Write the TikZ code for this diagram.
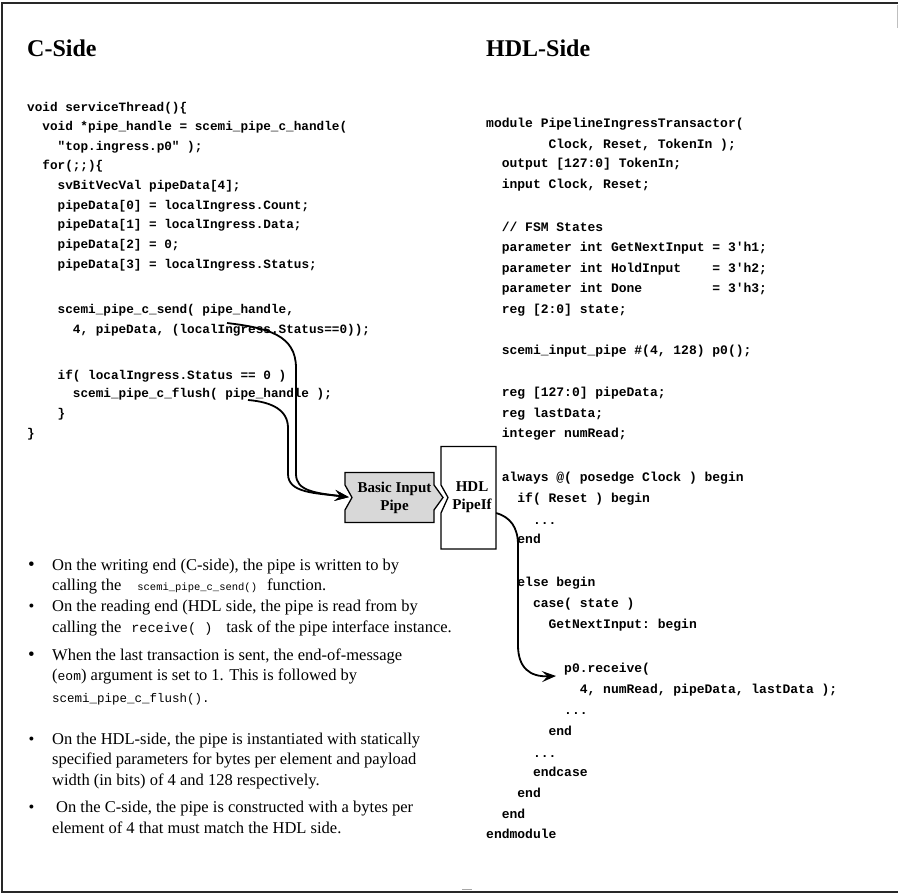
\documentclass[tikz,border=0pt]{standalone}
\usepackage{fontspec}
\setmainfont{Liberation Serif}
\setmonofont{Liberation Mono}
\usetikzlibrary{arrows.meta,calc}
\definecolor{pipegray}{RGB}{216,216,216}
\definecolor{framegray}{RGB}{40,40,40}
\begin{document}
\begin{tikzpicture}[x=1pt,y=-1pt,
  ccode/.style={anchor=base west, inner sep=0pt, font=\ttfamily\bfseries\fontsize{12.7}{15}\selectfont},
  hcode/.style={anchor=base west, inner sep=0pt, font=\ttfamily\bfseries\fontsize{13}{15}\selectfont},
  btxt/.style={anchor=base west, inner sep=0pt, font=\fontsize{16.5}{20}\selectfont},
  bdot/.style={anchor=base, inner sep=0pt, font=\fontsize{16.5}{20}\selectfont},
  bdotbig/.style={anchor=base, inner sep=0pt, font=\fontsize{19}{20}\selectfont},
  title/.style={anchor=base west, inner sep=0pt, font=\bfseries\fontsize{24}{27}\selectfont},
  lbl/.style={align=center, inner sep=0pt, font=\bfseries\fontsize{15}{18}\selectfont},
  shapeline/.style={line width=1.3pt, draw=black},
  wire/.style={line width=1.8pt, -{Stealth[length=14pt,width=11pt,inset=5.5pt]}}]
\useasboundingbox (0,0) rectangle (898,893);
% frame
\draw[line width=1.2pt, framegray] (2,892) -- (2,3);
\draw[line width=2pt, framegray] (1,3) -- (898,3);
\draw[line width=1.5pt, framegray] (1,891.8) -- (898,891.8);
\draw[line width=1pt, black!25] (897,5) -- (897,28);
\draw[line width=1.5pt, black!35] (462,889.5) -- (472,889.5);

% titles
\node[title] (ctitle) at (27,57) {C-Side};
\node[title] (htitle) at (486,57) {HDL-Side};

% C code
\node[ccode] (c1) at (27,111.5) {void serviceThread()\{};
\node[ccode] (c2) at (42.2,131) {void *pipe\_handle = scemi\_pipe\_c\_handle(};
\node[ccode] (c3) at (57.5,151) {"top.ingress.p0" );};
\node[ccode] (c4) at (42.2,170) {for(;;)\{};
\node[ccode] (c5) at (57.5,190) {svBitVecVal pipeData[4];};
\node[ccode] (c6) at (57.5,209.5) {pipeData[0] = localIngress.Count;};
\node[ccode] (c7) at (57.5,229) {pipeData[1] = localIngress.Data;};
\node[ccode] (c8) at (57.5,249) {pipeData[2] = 0;};
\node[ccode] (c9) at (57.5,268.5) {pipeData[3] = localIngress.Status;};
\node[ccode] (c10) at (57.5,314) {scemi\_pipe\_c\_send( pipe\_handle,};
\node[ccode] (c11) at (72.7,334) {4, pipeData, (localIngress.Status==0));};
\node[ccode] (c12) at (57.5,379.5) {if( localIngress.Status == 0 )};
\node[ccode] (c13) at (72.7,398) {scemi\_pipe\_c\_flush( pipe\_handle );};
\node[ccode] (c14) at (57.5,418) {\}};
\node[ccode] (c15) at (27,438) {\}};

% HDL code
\node[hcode] (h1) at (486,127.5) {module PipelineIngressTransactor(};
\node[hcode] (h2) at (548.4,148.5) {Clock, Reset, TokenIn );};
\node[hcode] (h3) at (501.6,168) {output [127:0] TokenIn;};
\node[hcode] (h4) at (501.6,188.5) {input Clock, Reset;};
\node[hcode] (h5) at (501.6,232) {// FSM States};
\node[hcode] (h6) at (501.6,252) {parameter int GetNextInput = 3'h1;};
\node[hcode] (h7) at (501.6,272.5) {parameter int HoldInput~~~~= 3'h2;};
\node[hcode] (h8) at (501.6,293) {parameter int Done~~~~~~~~~= 3'h3;};
\node[hcode] (h9) at (501.6,313.5) {reg [2:0] state;};
\node[hcode] (h10) at (501.6,354.5) {scemi\_input\_pipe \#(4, 128) p0();};
\node[hcode] (h11) at (501.6,397) {reg [127:0] pipeData;};
\node[hcode] (h12) at (501.6,418) {reg lastData;};
\node[hcode] (h13) at (501.6,438) {integer numRead;};
\node[hcode] (h14) at (501.6,482) {always @( posedge Clock ) begin};
\node[hcode] (h15) at (517.2,503) {if( Reset ) begin};
\node[hcode] (h16) at (532.8,524.5) {...};
\node[hcode] (h17) at (517.2,543.5) {end};
\node[hcode] (h18) at (517.2,586.5) {else begin};
\node[hcode] (h19) at (532.8,607) {case( state )};
\node[hcode] (h20) at (548.4,628.5) {GetNextInput: begin};
\node[hcode] (h21) at (564,672) {p0.receive(};
\node[hcode] (h22) at (579.6,693) {4, numRead, pipeData, lastData );};
\node[hcode] (h23) at (564,714) {...};
\node[hcode] (h24) at (548.4,735.5) {end};
\node[hcode] (h25) at (532.8,757) {...};
\node[hcode] (h26) at (532.8,776.5) {endcase};
\node[hcode] (h27) at (517.2,797.5) {end};
\node[hcode] (h28) at (501.6,818) {end};
\node[hcode] (h29) at (486,838.5) {endmodule};

% pipe shapes
\draw[shapeline, fill=pipegray] (345,472.5) -- (434,472.5) -- (434,485) -- (443,497.5) -- (434,510) -- (434,522.5) -- (345,522.5) -- (345,510) -- (352,497.5) -- (345,485) -- cycle;
\node[lbl, minimum width=85pt, minimum height=50pt] (pipe) at (394.5,497.5) {Basic Input\\Pipe};
\draw[shapeline, fill=white] (441,446.5) -- (496,446.5) -- (496,549) -- (441,549) -- (441,513) -- (448,497.5) -- (441,485) -- cycle;
\node[lbl, minimum width=48pt, minimum height=102pt] (hdl) at (472,497.5) {HDL\\PipeIf};

% connectors
\coordinate (sA) at (227,323);
\coordinate (sB) at (248,400);
\coordinate (sC) at ($(hdl.east)+(0,15.5)$);
\coordinate (tC) at (556,676);
\draw[wire, shorten >=3pt] (sA) .. controls (268,328) and (296,335) .. (296,368) -- (296,474) .. controls (296,491) and (315,493) .. (pipe.west);
\draw[wire, shorten >=3pt] (sB) .. controls (272,402) and (288,410) .. (288,428) -- (288,474) .. controls (288,493) and (315,493) .. (pipe.west);
\draw[wire] (sC) .. controls (510,517) and (518,527) .. (518,545) -- (518,645) .. controls (518,668) and (530,677) .. (tC);

% bullets
\node[bdotbig] (d1) at (31.5,570) {•};
\node[btxt] (b1a) at (52,570) {On the writing end (C-side), the pipe is written to by};
\node[btxt] (b1b) at (52,590.5) {calling the\hspace{16pt}{\ttfamily\mdseries\fontsize{10.5}{12}\selectfont scemi\_pipe\_c\_send()}\hspace{10pt}function.};
\node[bdot] (d2) at (31.5,611.5) {•};
\node[btxt] (b2a) at (52,611.5) {On the reading end (HDL side, the pipe is read from by};
\node[btxt] (b2b) at (52,632.5) {calling the\hspace{10pt}{\ttfamily\mdseries\fontsize{13.5}{12}\selectfont receive( )}\hspace{14pt}task of the pipe interface instance.};
\node[bdotbig] (d3) at (31.5,660) {•};
\node[btxt] (b3a) at (52,660) {When the last transaction is sent, the end-of-message};
\node[btxt] (b3b) at (52,680.5) {({\ttfamily\mdseries\fontsize{13}{12}\selectfont eom}) argument is set to 1. This is followed by};
\node[btxt] (b3c) at (52,702.5) {{\ttfamily\mdseries\fontsize{12.5}{12}\selectfont scemi\_pipe\_c\_flush().}};
\node[bdot] (d4) at (31.5,744) {•};
\node[btxt] (b4a) at (52,744) {On the HDL-side, the pipe is instantiated with statically};
\node[btxt] (b4b) at (52,764.5) {specified parameters for bytes per element and payload};
\node[btxt] (b4c) at (52,785) {width (in bits) of 4 and 128 respectively.};
\node[bdot] (d5) at (31.5,812.5) {•};
\node[btxt] (b5a) at (56,812.5) {On the C-side, the pipe is constructed with a bytes per};
\node[btxt] (b5b) at (52,833) {element of 4 that must match the HDL side.};
\end{tikzpicture}
\end{document}
